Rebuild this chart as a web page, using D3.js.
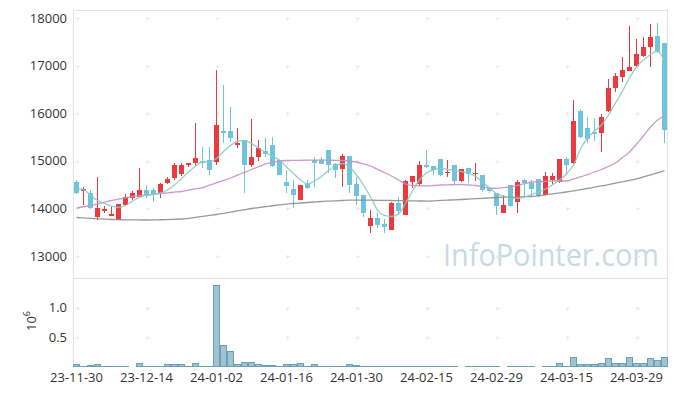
<!DOCTYPE html>
<html><head><meta charset="utf-8">
<script src="https://cdn.jsdelivr.net/npm/d3@7"></script>
<style>html,body{margin:0;padding:0;background:#fff;}svg{display:block;font-family:"Open Sans",sans-serif;}</style>
</head><body><svg id="c" width="677" height="396"></svg>
<script>
const dates = ["23-11-30","23-12-01","23-12-04","23-12-05","23-12-06","23-12-07","23-12-08","23-12-11","23-12-12","23-12-13",
"23-12-14","23-12-15","23-12-18","23-12-19","23-12-20","23-12-21","23-12-22","23-12-26","23-12-27","23-12-28",
"24-01-02","24-01-03","24-01-04","24-01-05","24-01-08","24-01-09","24-01-10","24-01-11","24-01-12","24-01-15",
"24-01-16","24-01-17","24-01-18","24-01-19","24-01-22","24-01-23","24-01-24","24-01-25","24-01-26","24-01-29",
"24-01-30","24-01-31","24-02-01","24-02-02","24-02-05","24-02-06","24-02-07","24-02-08","24-02-13","24-02-14",
"24-02-15","24-02-16","24-02-19","24-02-20","24-02-21","24-02-22","24-02-23","24-02-26","24-02-27","24-02-28",
"24-02-29","24-03-04","24-03-05","24-03-06","24-03-07","24-03-08","24-03-11","24-03-12","24-03-13","24-03-14",
"24-03-15","24-03-18","24-03-19","24-03-20","24-03-21","24-03-22","24-03-25","24-03-26","24-03-27","24-03-28",
"24-03-29","24-04-01","24-04-02","24-04-03","24-04-04"];
const open  = [14560,14360,14330,13815,13950,13860,13760,14070,14215,14235,14385,14385,14320,14540,14645,14720,14905,14950,15000,15015,
14985,15625,15625,15335,15435,14915,15085,15205,15330,15015,14545,14400,14180,14505,15015,15015,15225,14935,14820,15100,
14510,14280,13630,13790,13670,13545,14120,13860,14560,14505,14910,14890,15030,14740,14910,14575,14840,14715,14700,14420,
14315,13910,14490,14140,14595,14525,14610,14285,14600,14560,15030,14945,16045,15680,15600,15580,16050,16525,16770,16895,
17000,17210,17395,17620,17480];
const high  = [14600,14440,14390,14650,14050,14020,14095,14300,14365,14840,14490,14435,14540,14665,14960,14945,14960,15800,15295,15295,
16910,16590,16125,15685,15440,15870,15440,15475,15490,15020,14805,14600,14495,14590,15075,15075,15230,14950,15145,15105,
14665,14285,13965,13895,13770,14130,14235,14600,14685,15000,15225,14895,15035,15015,14915,14830,14845,14960,14705,14440,
14325,14280,14500,14600,14610,14600,14615,14770,14750,15040,15090,16275,16085,15925,15900,15990,16710,16840,17185,17830,
17550,17595,17865,17890,17480];
const low   = [14300,14070,13995,13760,13910,13855,13750,14050,14170,14230,14225,14140,14225,14515,14600,14680,14880,14890,14850,14700,
14910,15370,15400,15265,14330,14875,15000,15085,14880,14700,14320,14000,14175,14410,14455,14930,14735,14645,14455,14320,
14070,13825,13490,13580,13475,13545,13860,13860,14420,14500,14840,14700,14680,14655,14505,14560,14525,14575,14350,14325,
13860,13900,14030,13910,14245,14250,14250,14280,14515,14530,14700,14940,15480,15370,15420,15190,16030,16450,16660,16890,
16975,17175,16975,17270,15370];
const close = [14320,14410,14015,14000,13985,13880,14090,14230,14315,14385,14260,14305,14510,14625,14918,14915,14945,15060,14960,14810,
15750,15580,15475,15365,14910,15085,15260,15145,14900,14700,14470,14285,14490,14435,14950,14935,14910,14810,15100,14490,
14270,13910,13790,13650,13615,14120,13950,14575,14680,14910,14880,14810,14700,14770,14575,14820,14725,14750,14385,14365,
14050,14070,14050,14560,14540,14410,14260,14680,14680,15030,14910,15840,15505,15450,15580,15925,16520,16780,16905,16975,
17240,17385,17595,17290,15650];
const volume = [40000,8000,20000,40000,8000,8000,8000,8000,0,57000,8000,8000,8000,30000,40000,30000,8000,55000,8000,8000,
1367000,360000,250000,40000,70000,70000,40000,25000,25000,8000,40000,40000,55000,8000,40000,8000,8000,8000,8000,40000,
25000,8000,8000,8000,8000,8000,8000,8000,8000,8000,8000,8000,8000,8000,8000,0,8000,8000,8000,8000,
8000,0,8000,8000,8000,8000,0,8000,8000,57000,8000,160000,40000,40000,40000,55000,140000,55000,55000,160000,
55000,55000,140000,100000,160000];
const ma5 = [14418,14397,14282,14166,14103,14050,14019,14061,14156,14229,14282,14292,14324,14387,14492,14628,14765,14891,14975,14981,
15048,15195,15321,15406,15427,15364,15269,15174,15090,15017,14870,14733,14597,14513,14576,14670,14796,14891,14943,14870,
14702,14492,14240,13966,13851,13830,13882,14103,14366,14597,14744,14807,14842,14817,14796,14771,14744,14670,14555,14429,
14313,14261,14212,14212,14240,14292,14345,14408,14492,14597,14723,14912,15248,15479,15626,15752,15962,16214,16466,16740,
16971,17118,17233,17307,17086];
const ma20 = [14008,14035,14061,14096,14131,14166,14194,14222,14250,14266,14282,14298,14313,14327,14341,14355,14383,14411,14439,14487,
14534,14587,14639,14698,14758,14817,14875,14933,14965,14996,15006,15008,15010,15013,15015,15017,15013,15010,15006,14990,
14975,14933,14891,14821,14751,14681,14597,14513,14481,14476,14471,14481,14492,14495,14499,14502,14492,14481,14455,14429,
14422,14436,14450,14485,14520,14555,14562,14569,14576,14576,14576,14618,14660,14712,14765,14817,14885,14954,15070,15185,
15353,15521,15710,15857,15941];
const ma60 = [13809,13800,13790,13782,13774,13767,13763,13760,13758,13757,13756,13758,13762,13766,13771,13777,13792,13812,13833,13852,
13872,13897,13922,13948,13973,13998,14018,14037,14056,14074,14092,14103,14114,14124,14135,14145,14152,14158,14166,14172,
14176,14175,14172,14170,14168,14166,14163,14160,14158,14156,14155,14160,14168,14175,14181,14187,14195,14204,14212,14220,
14229,14233,14237,14241,14245,14250,14266,14286,14306,14325,14345,14368,14393,14418,14445,14471,14500,14530,14559,14589,
14618,14660,14702,14744,14786];
const priceTicks = [13000,14000,15000,16000,17000,18000];
const volTicks = [500000,1000000];
const volTickLabels = ["0.5","1.0"];
const xTickIdx = [0,10,20,30,40,50,60,70,80];

const svg = d3.select("#c");
const L=73, R=668, T=10, PB=278, VB=366.5;
const idx = d3.range(dates.length);
const x = d3.scaleBand().domain(idx).range([L,R]).paddingInner(0).paddingOuter(0);
const cx = i => x(i) + x.bandwidth()/2;
const yP = d3.scaleLinear().domain([12538,18168]).range([PB,T]);
const yV = d3.scaleLinear().domain([0,1500000]).range([VB,PB]);
const RED="#ea3a3e", BLUE="#6ec4da", GRID="#e9e9e9";

// watermark
svg.append("text").attr("x",443).attr("y",266)
  .attr("font-size",31).attr("fill","#c7dbe5").attr("font-family","'Open Sans',sans-serif")
  .attr("textLength",216).attr("lengthAdjust","spacingAndGlyphs")
  .text("InfoPointer.com");

// frame
const fr = svg.append("g").attr("stroke","#e3e3e3").attr("stroke-width",1).attr("shape-rendering","crispEdges");
fr.append("line").attr("x1",L).attr("x2",R).attr("y1",T+0.5).attr("y2",T+0.5);
fr.append("line").attr("x1",L+0.5).attr("x2",L+0.5).attr("y1",T).attr("y2",VB);
fr.append("line").attr("x1",R-0.5).attr("x2",R-0.5).attr("y1",T).attr("y2",VB);
fr.append("line").attr("x1",L).attr("x2",R).attr("y1",PB+0.5).attr("y2",PB+0.5);

// grid crosses
const crossG = svg.append("g").attr("stroke",GRID).attr("stroke-width",1).attr("shape-rendering","crispEdges");
const rows = priceTicks.map(p=>yP(p)).concat(volTicks.map(v=>yV(v)));
xTickIdx.forEach(i=>{
  rows.forEach(yy=>{
    const px = Math.round(cx(i))+0.5, py = Math.round(yy)+0.5;
    crossG.append("line").attr("x1",px-2).attr("x2",px+2).attr("y1",py).attr("y2",py);
    crossG.append("line").attr("x1",px).attr("x2",px).attr("y1",py-2).attr("y2",py+2);
  });
});

// axes labels
const yAxis = d3.axisLeft(yP).tickValues(priceTicks).tickSize(0).tickPadding(6).tickFormat(d3.format("d"));
const ga = svg.append("g").attr("transform",`translate(${L},0)`).call(yAxis);
ga.select(".domain").remove();
ga.selectAll("text").attr("font-size",13).attr("fill","#333").attr("font-family","'Open Sans',sans-serif");
const vAxis = d3.axisLeft(yV).tickValues(volTicks).tickSize(0).tickPadding(6).tickFormat((d,i)=>volTickLabels[i]);
const gv = svg.append("g").attr("transform",`translate(${L},0)`).call(vAxis);
gv.select(".domain").remove();
gv.selectAll("text").attr("font-size",13).attr("fill","#333").attr("font-family","'Open Sans',sans-serif");
const xAxis = d3.axisBottom(x).tickValues(xTickIdx).tickSize(0).tickPadding(6).tickFormat(i=>dates[i]);
const gx = svg.append("g").attr("transform",`translate(0,${VB})`).call(xAxis);
gx.select(".domain").remove();
gx.selectAll("text").attr("font-size",13).attr("fill","#333").attr("font-family","'Open Sans',sans-serif");

// 10^6 label
const lab = svg.append("text").attr("transform","translate(36,321) rotate(-90)").attr("text-anchor","middle")
  .attr("font-size",13).attr("fill","#333");
lab.append("tspan").text("10");
lab.append("tspan").attr("font-size",9).attr("dy",-6).text("6");

// volume bars
svg.append("g").selectAll("rect").data(idx).join("rect")
  .attr("x",i=>x(i)+0.5).attr("width",x.bandwidth()-1)
  .attr("y",i=>yV(volume[i])).attr("height",i=>Math.max(0,VB-yV(volume[i])))
  .attr("fill","#9fc3d3").attr("stroke","#6a9fb6").attr("stroke-width",1)
  .attr("shape-rendering","crispEdges")
  .attr("display",i=>volume[i]>0?null:"none");

// candles
const cg = svg.append("g").attr("shape-rendering","crispEdges");
const col = i => close[i]>=open[i]?RED:BLUE;
cg.selectAll("line").data(idx).join("line")
  .attr("x1",i=>cx(i)).attr("x2",i=>cx(i))
  .attr("y1",i=>yP(high[i])).attr("y2",i=>yP(low[i]))
  .attr("stroke",col).attr("stroke-width",1);
cg.selectAll("rect").data(idx).join("rect")
  .attr("x",i=>cx(i)-2.5).attr("width",5)
  .attr("y",i=>yP(Math.max(open[i],close[i])))
  .attr("height",i=>Math.max(1.5,Math.abs(yP(open[i])-yP(close[i]))))
  .attr("fill",col);

// moving averages
const line = arr => d3.line().x(i=>cx(i)).y(i=>yP(arr[i])).curve(d3.curveMonotoneX)(idx);
svg.append("path").attr("d",line(ma60)).attr("fill","none").attr("stroke","#8e8e8e").attr("stroke-width",1.3).attr("opacity",0.9);
svg.append("path").attr("d",line(ma20)).attr("fill","none").attr("stroke","#c78fc6").attr("stroke-width",1.3).attr("opacity",0.9);
svg.append("path").attr("d",line(ma5)).attr("fill","none").attr("stroke","#88cbc0").attr("stroke-width",1.3).attr("opacity",0.9);
</script></body></html>
